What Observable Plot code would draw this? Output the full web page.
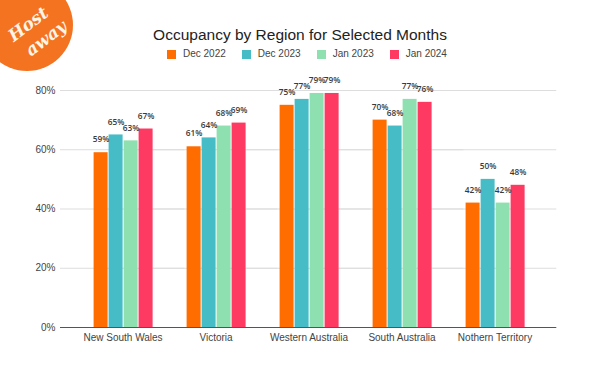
<!DOCTYPE html>
<html>
<head>
<meta charset="utf-8">
<script src="https://cdn.jsdelivr.net/npm/d3@7"></script>
<script src="https://cdn.jsdelivr.net/npm/@observablehq/plot@0.6"></script>
<style>
  html, body { margin: 0; padding: 0; background: #fff; }
  #wrap { position: relative; width: 590px; height: 377px; overflow: hidden; font-family: "Liberation Sans", Arial, sans-serif; }
  #header { position: relative; width: 590px; height: 68px; }
  #title { position: absolute; left: 0; width: 600px; top: 26px; text-align: center; font-size: 15.5px; line-height: 18px; color: #222; }
  #legend { position: absolute; top: 48px; left: 167px; display: flex; font-size: 10px; line-height: 12px; color: #444; }
  .item { display: flex; align-items: center; margin-right: 16px; }
  .sw { width: 9px; height: 9px; margin-right: 7px; }
  #logo { position: absolute; left: 0; top: 0; }
  #chart { position: absolute; left: 0; top: 68px; }
</style>
</head>
<body>
<div id="wrap">
  <div id="header">
    <div id="title">Occupancy by Region for Selected Months</div>
    <div id="legend"></div>
  </div>
  <svg id="logo" width="80" height="80">
    <circle cx="27" cy="25" r="46" fill="#f47321"></circle>
    <text x="28" y="30" transform="rotate(-37 28 24)" text-anchor="middle" fill="#fff5e6" font-family="DejaVu Serif" font-style="italic" font-weight="bold" font-size="17">Host</text>
    <text x="46" y="44" transform="rotate(-37 46 38)" text-anchor="middle" fill="#fff5e6" font-family="DejaVu Serif" font-style="italic" font-weight="bold" font-size="17">away</text>
  </svg>
  <div id="chart"></div>
</div>
<script>
const regions = ["New South Wales", "Victoria", "Western Australia", "South Australia", "Nothern Territory"];
const series = ["Dec 2022", "Dec 2023", "Jan 2023", "Jan 2024"];
const dec2022 = [59, 61, 75, 70, 42];
const dec2023 = [65, 64, 77, 68, 50];
const jan2023 = [63, 68, 79, 77, 42];
const jan2024 = [67, 69, 79, 76, 48];
const colors = ["#ff6d01", "#46bdc6", "#8fe0b0", "#ff3a62"];
const yTicks = [0, 20, 40, 60, 80];

const seriesValues = [dec2022, dec2023, jan2023, jan2024];
const data = regions.flatMap((r, i) => series.map((s, j) => ({region: r, series: s, value: seriesValues[j][i]})));

const legend = document.getElementById("legend");
series.forEach((s, j) => {
  const it = document.createElement("div");
  it.className = "item";
  it.innerHTML = `<span class="sw" style="background:${colors[j]}"></span><span>${s}</span>`;
  legend.appendChild(it);
});

const chart = Plot.plot({
  width: 590,
  height: 309,
  marginTop: 22,
  marginBottom: 50,
  marginLeft: 74.4,
  marginRight: 47.8,
  style: {fontFamily: "Liberation Sans, Arial, sans-serif", fontSize: "10px", color: "#444", background: "transparent"},
  facet: {data, x: "region"},
  fx: {domain: regions, padding: 0, label: null, axis: "bottom", tickSize: 0, tickPadding: 6},
  x: {domain: series, paddingInner: 0.1, paddingOuter: 1.06, axis: null},
  y: {domain: [0, 80], ticks: yTicks, tickFormat: d => d + "%", label: null, tickSize: 0, tickPadding: 21},
  color: {domain: series, range: colors},
  marks: [
    Plot.ruleY(yTicks.slice(1), {stroke: "#dddddd", strokeWidth: 1, insetLeft: -16, insetRight: -15.3}),
    Plot.barY(data, {x: "series", y: "value", fill: "series"}),
    Plot.text(data, {x: "series", y: "value", text: d => d.value + "%", dy: -13, fontSize: 8.3, fontWeight: 600, fill: "#3a3a3a", fontFamily: "Open Sans"}),
    Plot.ruleY([0], {stroke: "#555", strokeWidth: 1, insetLeft: -16, insetRight: -15.3})
  ]
});
document.getElementById("chart").appendChild(chart);
</script>
</body>
</html>
